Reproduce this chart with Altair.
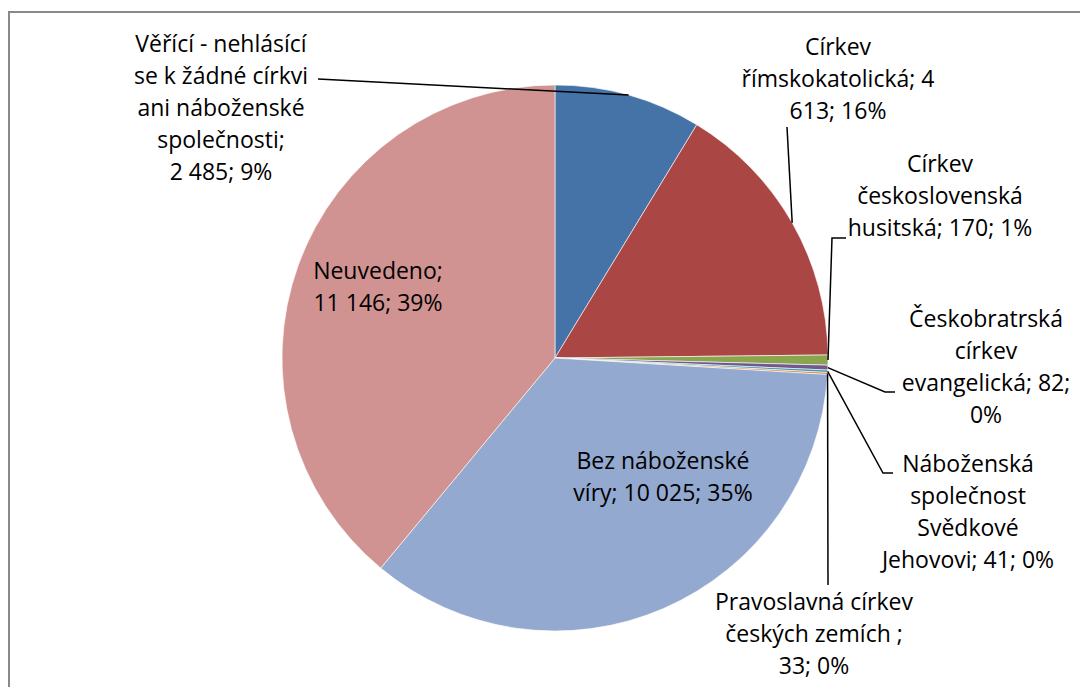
import math
import altair as alt
import pandas as pd

# ---- data ----
categories = [
    "Věřící - nehlásící se k žádné církvi ani náboženské společnosti",
    "Církev římskokatolická",
    "Církev československá husitská",
    "Českobratrská církev evangelická",
    "Náboženská společnost Svědkové Jehovovi",
    "Pravoslavná církev českých zemích",
    "Bez náboženské víry",
    "Neuvedeno",
]
values = [2485, 4613, 170, 82, 41, 33, 10025, 11146]
colors = ["#4572A7", "#AA4643", "#89A54E", "#71588F", "#4198AF", "#DB843D", "#93A9CF", "#D19392"]

label_lines = [
    ["Věřící - nehlásící", "se k žádné církvi", "ani náboženské", "společnosti;", "2 485; 9%"],
    ["Církev", "římskokatolická; 4", "613; 16%"],
    ["Církev", "československá", "husitská; 170; 1%"],
    ["Českobratrská", "církev", "evangelická; 82;", "0%"],
    ["Náboženská", "společnost", "Svědkové", "Jehovovi; 41; 0%"],
    ["Pravoslavná církev", "českých zemích ;", "33; 0%"],
    ["Bez náboženské", "víry; 10 025; 35%"],
    ["Neuvedeno;", "11 146; 39%"],
]

# ---- layout (page pixels, converted to plot pixels by subtracting the 8px margin) ----
M = 8
CX, CY, R = 555 - M, 358 - M, 273
LINE_H = 32
# label block: (center x, first line center y)
label_pos = [
    (221, 45), (838, 48), (940, 165), (986, 320),
    (968, 465), (814, 603), (663, 462), (378, 272),
]
# leader line bends (page px), from label towards slice; None = no leader
leader_pts = [
    [(318, 79)],
    [(787, 127)],
    [(846, 238), (832, 238)],
    [(895, 392), (885, 392)],
    [(893, 473), (883, 473)],
    [(828, 585)],
    None,
    None,
]

total = sum(values)
df = pd.DataFrame({"cat": categories, "value": values, "idx": list(range(len(values)))})

# text rows
trows = []
for i, lines in enumerate(label_lines):
    lx, ly = label_pos[i]
    for j, t in enumerate(lines):
        trows.append({"t": t, "px": lx - M, "py": ly - M + j * LINE_H})
tdf = pd.DataFrame(trows)

# leader rows: anchor at slice mid-angle on the rim
lrows = []
cum = 0
for i, v in enumerate(values):
    mid = (cum + v / 2) / total * 2 * math.pi
    cum += v
    pts = leader_pts[i]
    if pts is None:
        continue
    seq = 0
    for (x, y) in pts:
        lrows.append({"lid": i, "seq": seq, "px": x - M, "py": y - M})
        seq += 1
    lrows.append({"lid": i, "seq": seq, "px": CX + R * math.sin(mid), "py": CY - R * math.cos(mid)})
ldf = pd.DataFrame(lrows)

pie = alt.Chart(df).mark_arc(radius=R, stroke="white", strokeWidth=0.6).encode(
    theta=alt.Theta("value:Q", stack=True),
    order=alt.Order("idx:Q"),
    color=alt.Color("cat:N", scale=alt.Scale(domain=categories, range=colors), legend=None),
    x=alt.value(CX),
    y=alt.value(CY),
)

leaders = alt.Chart(ldf).mark_line(color="black", strokeWidth=1.5).encode(
    x=alt.X("px:Q", scale=None, axis=None),
    y=alt.Y("py:Q", scale=None, axis=None),
    detail="lid:N",
    order="seq:Q",
)

texts = alt.Chart(tdf).mark_text(
    font="Open Sans", fontSize=23, color="black", align="center", baseline="middle"
).encode(
    x=alt.X("px:Q", scale=None, axis=None),
    y=alt.Y("py:Q", scale=None, axis=None),
    text="t:N",
)

border = alt.Chart(pd.DataFrame({"a": [0]})).mark_rect(
    fill=None, stroke="#898989", strokeWidth=2
).encode(
    x=alt.value(9 - M), y=alt.value(12 - M), x2=alt.value(1300), y2=alt.value(1000)
)

chart = alt.layer(border, pie, leaders, texts).properties(
    width=1072, height=679, padding=0, autosize="none"
).configure_view(stroke=None)

chart.save("out.html", embed_options={"renderer": "svg", "actions": False})
